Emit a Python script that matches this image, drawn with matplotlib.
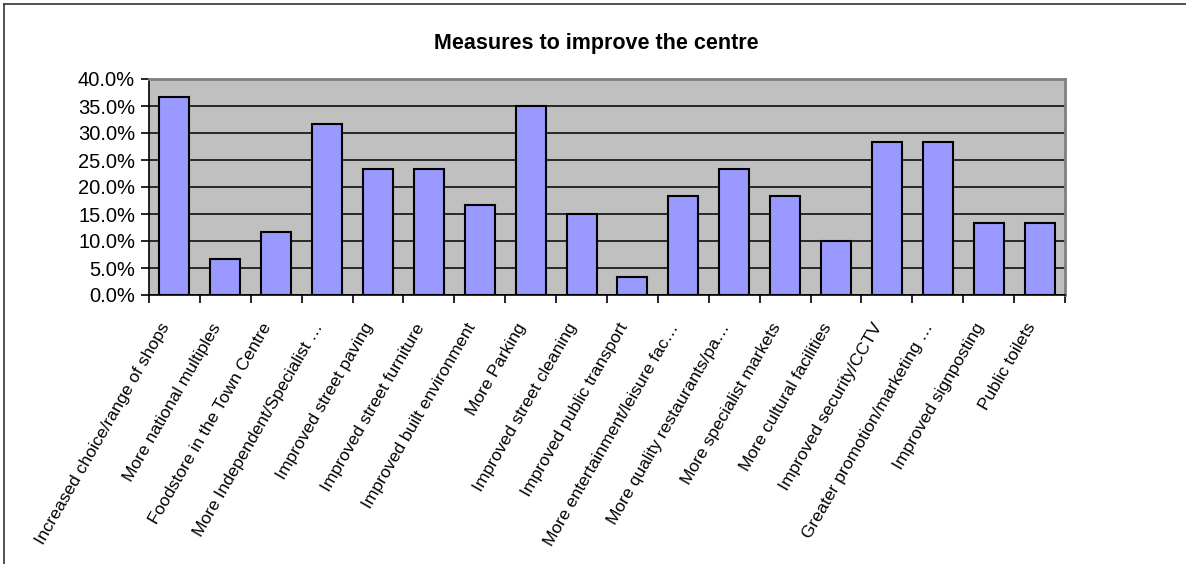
import numpy as np
import matplotlib
matplotlib.use('Agg')
import matplotlib.pyplot as plt
import matplotlib.transforms as mtransforms
from matplotlib.lines import Line2D
from matplotlib.ticker import MultipleLocator, FuncFormatter

plt.rcParams['font.family'] = ['Liberation Sans', 'DejaVu Sans']

# Data (percent of respondents)
categories = [
    'Increased choice/range of shops',
    'More national multiples',
    'Foodstore in the Town Centre',
    'More Independent/Specialist …',
    'Improved street paving',
    'Improved street furniture',
    'Improved built environment',
    'More Parking',
    'Improved street cleaning',
    'Improved public transport',
    'More entertainment/leisure fac…',
    'More quality restaurants/pa…',
    'More specialist markets',
    'More cultural facilities',
    'Improved security/CCTV',
    'Greater promotion/marketing …',
    'Improved signposting',
    'Public toilets',
]
values = [36.7, 6.7, 11.7, 31.7, 23.3, 23.3, 16.7, 35.0, 15.0,
          3.3, 18.3, 23.3, 18.3, 10.0, 28.3, 28.3, 13.3, 13.3]
title = 'Measures to improve the centre'

fig = plt.figure(figsize=(11.86, 5.64), dpi=100)
ax = fig.add_axes([149/1186, 1-295/564, (1065-149)/1186, (295-79)/564])

x = np.arange(len(values))
ax.bar(x, values, width=0.59, color='#9999FF', edgecolor='black', linewidth=1.5, zorder=3)

ax.set_facecolor('#C0C0C0')
ax.set_xlim(-0.5, len(values) - 0.5)
ax.set_ylim(0, 40)
ax.yaxis.set_major_locator(MultipleLocator(5))
ax.yaxis.set_major_formatter(FuncFormatter(lambda v, p: f'{v:.1f}%'))
ax.grid(axis='y', color='black', linewidth=1.1, zorder=1)
ax.tick_params(axis='y', labelsize=14.5, direction='out', length=6, width=1.2, pad=4)

# category boundaries as ticks, labels at centres
ax.set_xticks(np.arange(len(values) + 1) - 0.5)
ax.set_xticklabels([])
ax.tick_params(axis='x', which='major', direction='out', length=6, width=1.2)
ax.set_xticks(x, minor=True)
ax.set_xticklabels(categories, minor=True, rotation=60, ha='right', va='center',
                   rotation_mode='anchor', fontsize=12.6)
ax.tick_params(axis='x', which='minor', length=0, pad=14)
shift = mtransforms.ScaledTranslation(-8/100, -10/100, fig.dpi_scale_trans)
for lab in ax.get_xticklabels(minor=True):
    lab.set_transform(lab.get_transform() + shift)

for s in ['top', 'right']:
    ax.spines[s].set_color('#808080')
    ax.spines[s].set_linewidth(2)
for s in ['left', 'bottom']:
    ax.spines[s].set_color('black')
    ax.spines[s].set_linewidth(1.2)

fig.text(596/1186, 1-43/564, title, ha='center', va='center', fontsize=15.5, fontweight='bold')

# chart frame (only left and top edges visible)
fig.add_artist(Line2D([4/1186, 4/1186], [0, 1-4/564], color='#333333', linewidth=1.2))
fig.add_artist(Line2D([4/1186, 1], [1-4/564, 1-4/564], color='#333333', linewidth=1.2))

fig.savefig('out.png', dpi=100)
